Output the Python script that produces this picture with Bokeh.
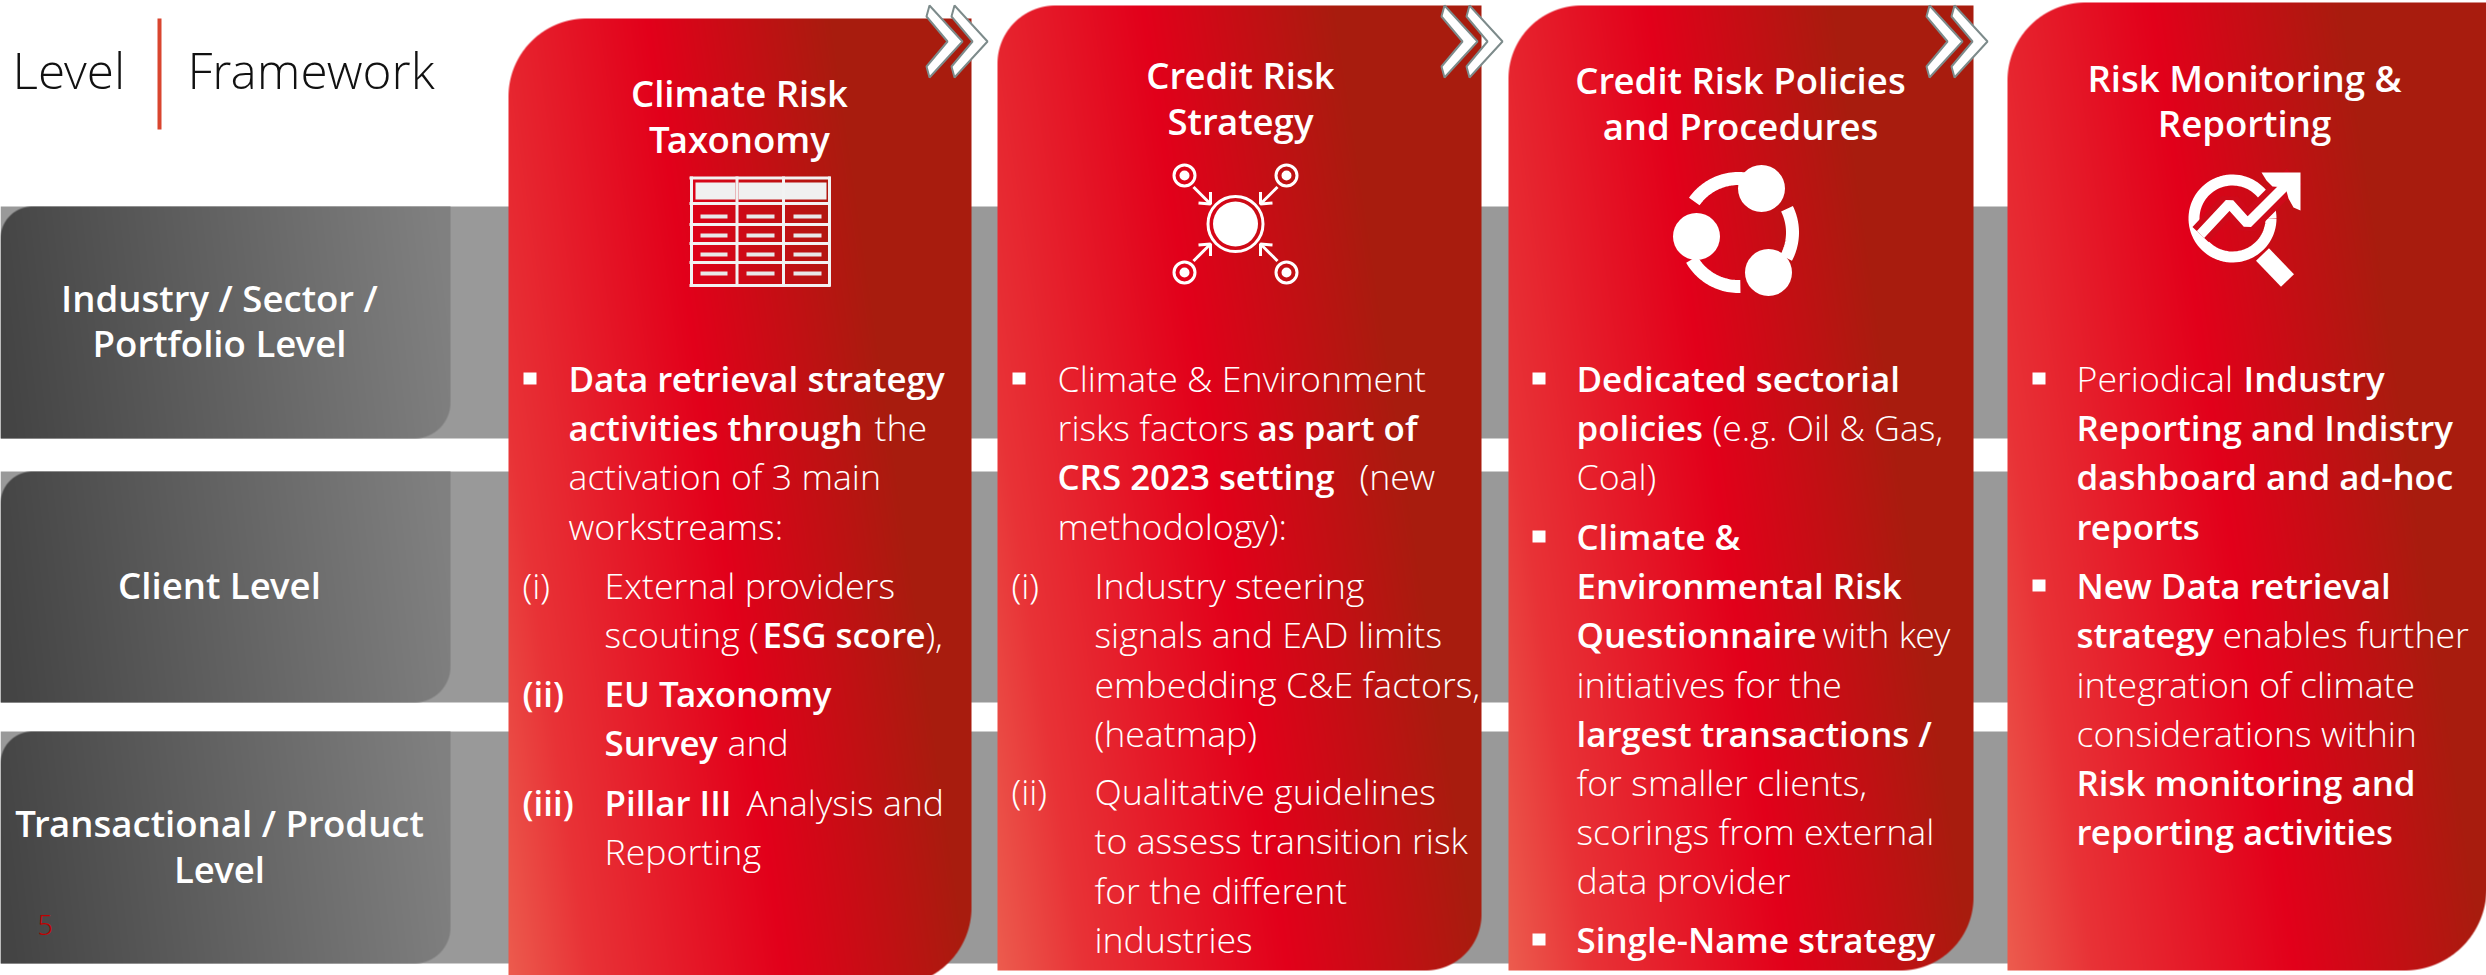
import numpy as np
from bokeh.plotting import figure
from bokeh.embed import file_html
from bokeh.resources import INLINE
from bokeh.core.properties import value

# ---------- content ----------
header_words = ["Level", "Framework"]
level_labels = [["Industry / Sector /", "Portfolio Level"], ["Client Level"], ["Transactional / Product", "Level"]]
card_titles = [["Climate Risk", "Taxonomy"], ["Credit Risk", "Strategy"],
               ["Credit Risk Policies", "and Procedures"], ["Risk Monitoring &", "Reporting"]]
page_number = "5"

# (text, bold) runs of each card, with their x and baseline listed apart
card1_runs = [("Data retrieval strategy", 1), ("activities through", 1), ("the", 0), ("activation of 3 main", 0),
              ("workstreams:", 0), ("(i)", 0), ("External providers", 0), ("scouting (", 0), ("ESG score", 1), ("),", 0),
              ("(ii)", 1), ("EU Taxonomy", 1), ("Survey", 1), ("and", 0), ("(iii)", 1), ("Pillar III", 1),
              ("Analysis and", 0), ("Reporting", 0)]
card1_x = [568, 568, 874, 568, 568, 522, 604, 604, 762, 925, 522, 604, 604, 727, 522, 604, 746, 604]
card1_y = [392, 441, 441, 490, 540, 599, 599, 648, 648, 648, 707, 707, 756, 756, 816, 816, 816, 865]

card2_runs = [("Climate & Environment", 0), ("risks factors", 0), ("as part of", 1), ("CRS 2023 setting", 1), ("(new", 0),
              ("methodology):", 0), ("(i)", 0), ("Industry steering", 0), ("signals and EAD limits", 0),
              ("embedding C&E factors,", 0), ("(heatmap)", 0), ("(ii)", 0), ("Qualitative guidelines", 0),
              ("to assess transition risk", 0), ("for the different", 0), ("industries", 0)]
card2_x = [1057, 1057, 1257, 1057, 1359, 1057, 1011, 1094, 1094, 1094, 1094, 1011, 1094, 1094, 1094, 1094]
card2_y = [392, 441, 441, 490, 490, 540, 599, 599, 648, 698, 747, 805, 805, 854, 904, 953]

card3_runs = [("Dedicated sectorial", 1), ("policies", 1), ("(e.g. Oil & Gas,", 0), ("Coal)", 0), ("Climate &", 1),
              ("Environmental Risk", 1), ("Questionnaire", 1), ("with key", 0), ("initiatives for the", 0),
              ("largest transactions /", 1), ("for smaller clients,", 0), ("scorings from external", 0),
              ("data provider", 0), ("Single-Name strategy", 1)]
card3_x = [1576, 1576, 1712, 1576, 1576, 1576, 1576, 1822, 1576, 1576, 1576, 1576, 1576, 1576]
card3_y = [392, 441, 441, 490, 550, 599, 648, 648, 698, 747, 796, 845, 894, 953]

card4_runs = [("Periodical", 0), ("Industry", 1), ("Reporting and Indistry", 1), ("dashboard and ad-hoc", 1),
              ("reports", 1), ("New Data retrieval", 1), ("strategy", 1), ("enables further", 0),
              ("integration of climate", 0), ("considerations within", 0), ("Risk monitoring and", 1),
              ("reporting activities", 1)]
card4_x = [2076, 2243, 2076, 2076, 2076, 2076, 2076, 2222, 2076, 2076, 2076, 2076]
card4_y = [392, 392, 441, 490, 540, 599, 648, 648, 698, 747, 796, 845]

# bullets: left edge and top of each square
bullet_x = [523, 1012, 1532, 1532, 1532, 2032, 2032]
bullet_y = [372, 372, 372, 530, 933, 372, 579]

# ---------- layout (reference pixels) ----------
bands = [(206, 438), (471, 702), (731, 963)]
level_base = [[312, 357], [599], [837, 883]]
cards = [(508, 18, 971, 985, 78, 78), (997, 5, 1481, 970, 58, 56),
         (1508, 5, 1973, 970, 73, 73), (2007, 2, 2486, 970, 78, 82)]
title_cx = [739, 1240, 1740, 2244]
title_base = [[107, 153], [89, 135], [94, 140], [92, 137]]
chevron_x = [926, 1441, 1926]

LIGHT = value("Open Sans Light")
SEMI = value("'Open Sans SemiBold', 'Open Sans'")
BODY_SIZE = 35.7
BOLD_SIZE = 34.9
HEAD_SIZE = 36.6
WHITE = "#ffffff"

p = figure(width=2486, height=975, x_range=(0, 2486), y_range=(975, 0), x_axis_type=None, y_axis_type=None,
           output_backend="svg", toolbar_location=None, min_border=0, outline_line_color=None,
           background_fill_color=WHITE, border_fill_color=WHITE)
p.grid.visible = False


def label(xs, ys, texts, font, size, color=WHITE, align="left"):
    # the baseline offset keeps y on the reference's text baseline in the svg output
    p.text(xs, ys, text=texts, text_font=font, text_font_size=f"{size}px", text_color=color, text_align=align,
           text_baseline="alphabetic", y_offset=-0.4 * size)


def ramp(t, stops):
    ts = [s[0] for s in stops]
    return np.stack([np.interp(t, ts, [s[1][i] for s in stops]) for i in range(3)], axis=-1)


def rounded(x0, y0, x1, y1, r_tl, r_br, fill):
    """RGBA raster of a box with a rounded top-left and bottom-right corner; rows run with the y range."""
    w, h = int(x1 - x0), int(y1 - y0)
    xx, yy = np.meshgrid(np.arange(w) + .5, np.arange(h) + .5)
    cover = np.ones((h, w))
    d = np.hypot(np.maximum(r_tl - xx, 0), np.maximum(r_tl - yy, 0))
    cover = np.minimum(cover, np.clip(r_tl - d + .5, 0, 1))
    d = np.hypot(np.maximum(xx - (w - r_br), 0), np.maximum(yy - (h - r_br), 0))
    cover = np.minimum(cover, np.clip(r_br - d + .5, 0, 1))
    rgb = fill(xx / w, yy / h)
    out = np.zeros((h, w), dtype=np.uint32)
    view = out.view(np.uint8).reshape((h, w, 4))
    view[..., :3] = np.round(rgb).astype(np.uint8)
    view[..., 3] = np.round(cover * 255).astype(np.uint8)
    return out


RED_STOPS = [(-.30, (236, 92, 78)), (-.12, (232, 50, 54)), (.30, (226, 0, 26)), (.70, (168, 28, 14)), (1, (168, 28, 14))]
GREY_STOPS = [(0, (68, 68, 68)), (1, (128, 128, 128))]
red_fill = lambda xf, yf: ramp(xf - .30 * yf, RED_STOPS)
grey_fill = lambda xf, yf: ramp(xf - .06 * yf + .03, GREY_STOPS)

# grey bands and dark level boxes
p.quad(left=[0] * 3, right=[2020] * 3, top=[b[0] for b in bands], bottom=[b[1] for b in bands],
       fill_color="#999999", line_color=None)
for (t, b) in bands:
    p.image_rgba(image=[rounded(0, t, 450, b, 32, 36, grey_fill)], x=0, y=t, dw=450, dh=b - t)

# header
label([12], [89], [header_words[0]], LIGHT, 49.5, "#111111")
label([187], [89], [header_words[1]], LIGHT, 49.5, "#111111")
p.quad(left=[157], right=[161], top=[18], bottom=[129], fill_color="#d9452f", line_color=None)
for lines, base in zip(level_labels, level_base):
    label([219] * len(lines), base, lines, SEMI, HEAD_SIZE, align="center")
label([37], [935], [page_number], LIGHT, 27, "#c00000")

# cards
for (x0, y0, x1, y1, rt, rb) in cards:
    p.image_rgba(image=[rounded(x0, y0, x1, y1, rt, rb, red_fill)], x=x0, y=y0, dw=x1 - x0, dh=y1 - y0)

# chevrons
for x in chevron_x:
    for dx in (0, 25):
        o = x + dx
        p.patch([o + 3, o + 36, o + 3, o, o + 21, o], [5, 41, 77, 66, 41, 16], fill_color=WHITE,
                line_color="#7d8b8b", line_width=2)

# titles
for cx, lines, base in zip(title_cx, card_titles, title_base):
    label([cx] * 2, base, lines, SEMI, HEAD_SIZE, align="center")

# body text
for runs, xs, ys in [(card1_runs, card1_x, card1_y), (card2_runs, card2_x, card2_y),
                     (card3_runs, card3_x, card3_y), (card4_runs, card4_x, card4_y)]:
    for bold in (0, 1):
        sel = [i for i, r in enumerate(runs) if r[1] == bold]
        label([xs[i] for i in sel], [ys[i] for i in sel], [runs[i][0] for i in sel],
              SEMI if bold else LIGHT, BOLD_SIZE if bold else BODY_SIZE)
p.quad(left=bullet_x, right=[v + 13 for v in bullet_x], top=bullet_y, bottom=[v + 12 for v in bullet_y],
       fill_color=WHITE, line_color=None)

# icon 1: table
p.quad(left=[695, 738, 784], right=[735, 782, 826], top=[182] * 3, bottom=[199] * 3, fill_color="#f0f0f0", line_color=None)
p.multi_line(xs=[[a, a] for a in (691, 736.5, 783, 829)], ys=[[176, 286]] * 4, line_color="#f2f2f2", line_width=3)
p.multi_line(xs=[[689, 830]] * 6, ys=[[a, a] for a in (177.5, 203, 224, 243, 262, 285)], line_color="#f2f2f2", line_width=3)
for a, b in ((700, 727), (746, 774), (793, 821)):
    p.multi_line(xs=[[a, b]] * 4, ys=[[r, r] for r in (216, 235, 254, 273)], line_color="#e8e8e8", line_width=4)

# icon 2: hub
hx, hy = 1235, 223.5
p.circle([hx], [hy], radius=27.5, fill_color=None, line_color=WHITE, line_width=3)
p.circle([hx], [hy], radius=22.5, fill_color=WHITE, line_color=None)
for sx in (-1, 1):
    for sy in (-1, 1):
        p.circle([hx + sx * 51], [hy + sy * 48.5], radius=10.5, fill_color=None, line_color=WHITE, line_width=3)
        p.circle([hx + sx * 51], [hy + sy * 48.5], radius=5, fill_color=WHITE, line_color=None)
        p.line([hx + sx * 42, hx + sx * 25], [hy + sy * 37, hy + sy * 20], line_color=WHITE, line_width=3)
        p.line([hx + sx * 37, hx + sx * 25, hx + sx * 25], [hy + sy * 21, hy + sy * 20, hy + sy * 32],
               line_color=WHITE, line_width=3)

# icon 3: cycle
for a0, a1 in ((-145, -82), (-26, 28), (150, 88)):
    ang = np.radians(np.linspace(a0, a1, 30))
    p.line(1738 + 54 * np.cos(ang), 232 + 54 * np.sin(ang), line_color=WHITE, line_width=13)
p.circle([1761, 1696, 1768], [188, 236, 272], radius=23.5, fill_color=WHITE, line_color=None)

# icon 4: magnifier and rising line
ang = np.radians(np.linspace(0, 360, 90))
p.line(2232 + 38.5 * np.cos(ang), 218 + 38.5 * np.sin(ang), line_color=WHITE, line_width=11)
zig_x, zig_y = [2200, 2229, 2247, 2294], [234, 203, 223, 176]
p.line(zig_x, zig_y, line_color="#cf0a1a", line_width=22)
p.line(zig_x, zig_y, line_color=WHITE, line_width=10)
p.line([2262, 2287], [254, 280], line_color=WHITE, line_width=18)
p.patch([2261, 2300, 2300, 2293, 2288, 2285, 2272, 2266], [172, 172, 210, 207, 198, 187, 186, 180],
        fill_color=WHITE, line_color=None)

open("out.html", "w").write(file_html(p, INLINE))
